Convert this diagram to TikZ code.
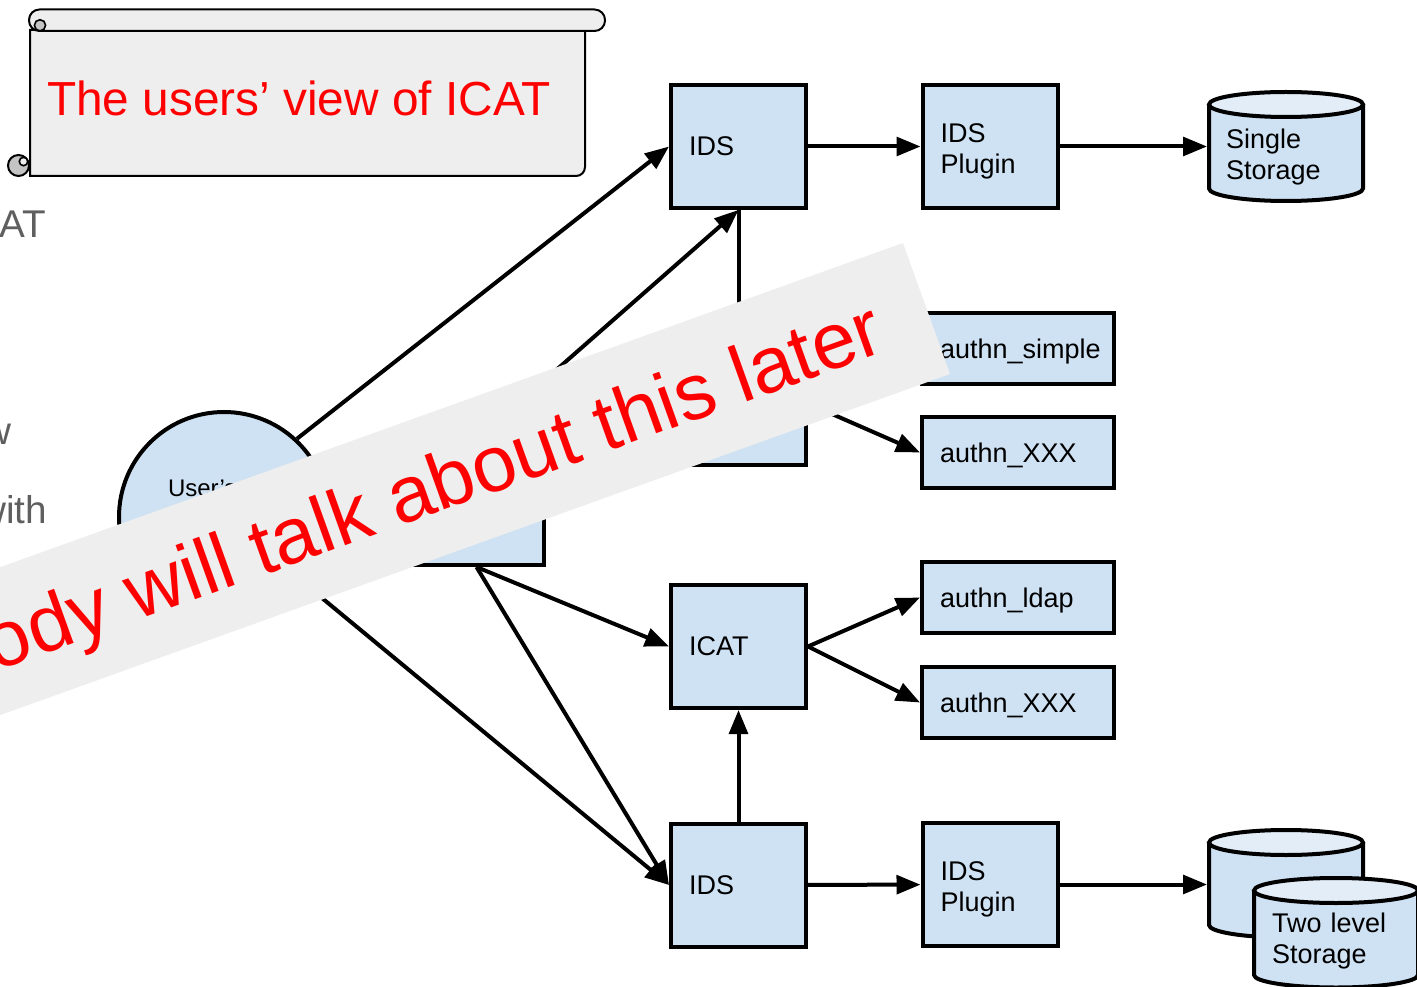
\documentclass[tikz,border=0pt]{standalone}
\usepackage{fontspec}
\setmainfont{Liberation Sans}
\usetikzlibrary{arrows.meta}
\definecolor{boxblue}{HTML}{CFE2F3}
\definecolor{topblue}{HTML}{E2EDF8}
\definecolor{bannergray}{HTML}{EEEEEE}
\definecolor{scrollgray}{HTML}{EEEEEE}
\definecolor{curlgray}{HTML}{C4C4C4}
\definecolor{fadetext}{HTML}{5F5F5F}
\definecolor{alertred}{HTML}{FF0000}
\begin{document}
\begin{tikzpicture}[x=0.75pt,y=-0.75pt,
  every node/.style={inner sep=0pt, outer sep=0pt},
  lab/.style={font=\fontsize{20.25pt}{23.25pt}\selectfont},
  sbox/.style={draw, line width=3pt, outer sep=1.5pt, fill=boxblue, lab, align=left,
    inner xsep=13.5pt, inner ysep=0pt, text width=74.25pt, minimum height=92.25pt},
  abox/.style={sbox, text width=117pt, text depth=0pt, minimum height=53.25pt},
  arr/.style={line width=3pt, -{Triangle[length=18pt,width=14pt]}},
  cyl/.style={line width=3pt},
  stlab/.style={lab, align=left, inner xsep=14.25pt, text width=90pt},
  fade/.style={text=fadetext, font=\fontsize{29pt}{34pt}\selectfont}
]
\useasboundingbox (0,0) rectangle (1417,987);
\clip (0,0) rectangle (1417,987);

% faded slide text at the left edge
\node[fade, anchor=base east] (fadeA) at (46,238) {AT};
\node[fade, anchor=base east] (fadeB) at (11,445) {w};
\node[fade, anchor=base east] (fadeC) at (47,523) {with};

% scroll
\draw[line width=1.5pt, fill=scrollgray] (30,30) -- (30,176) -- (576,176)
  .. controls (581,176) and (585,172) .. (585,167) -- (585,30) -- cycle;
\draw[line width=1.5pt, fill=scrollgray, rounded corners=7.8pt] (29,9.5) rectangle (605,31);
\draw[line width=1.2pt, fill=curlgray] (40,25.3) circle[radius=5.6];
\draw[line width=1.5pt, fill=curlgray] (18.5,165.5) circle[radius=10.5];
\draw[line width=1.2pt, fill=scrollgray] (23.5,161.5) circle[radius=4.2];
\node[anchor=base west, text=alertred, font=\fontsize{35.85pt}{42pt}\selectfont] (title) at (47,116) {The users’ view of ICAT};

% user side
\node[draw, line width=3pt, outer sep=1.5pt, fill=boxblue, circle, minimum size=157.5pt] (user) at (224,517) {};
\node[anchor=base west, font=\fontsize{18pt}{21pt}\selectfont] (usert) at (168,496) {User’s};
\node[sbox] (uprog) at (476.5,503.5) {};

% boxes
\node[sbox] (ids1) at (738.5,146.5) {IDS};
\node[sbox] (plug1) at (990,146.5) {\rule{0pt}{20.8pt}IDS\\Plugin};
\node[sbox] (icat1) at (738.5,403.5) {};
\node[sbox] (icat2) at (738.5,646.5) {ICAT};
\node[sbox] (ids2) at (738.5,885) {IDS};
\node[sbox] (plug2) at (990,884.5) {\rule{0pt}{20.8pt}IDS\\Plugin};
\node[abox] (asimple) at (1018,348.5) {authn\_simple};
\node[abox] (axxx1) at (1018,452.5) {authn\_XXX};
\node[abox] (aldap) at (1018,597.5) {authn\_ldap};
\node[abox] (axxx2) at (1018,702.5) {authn\_XXX};

% single storage cylinder
\path[fill=boxblue] (1209,104.5) -- (1209,188.5)
  arc[start angle=180, end angle=0, x radius=77, y radius=12.5] -- (1363,104.5) -- cycle;
\draw[cyl] (1209,104.5) -- (1209,188.5)
  arc[start angle=180, end angle=0, x radius=77, y radius=12.5] -- (1363,104.5);
\draw[cyl, fill=topblue] (1286,104.5) ellipse[x radius=77, y radius=12.5];
\node[stlab] (st1) at (1286,157) {Single\\Storage};

% two level storage cylinders
\path[fill=boxblue] (1209,842.5) -- (1209,925)
  arc[start angle=180, end angle=0, x radius=77, y radius=12.5] -- (1363,842.5) -- cycle;
\draw[cyl] (1209,842.5) -- (1209,925)
  arc[start angle=180, end angle=0, x radius=77, y radius=12.5] -- (1363,842.5);
\draw[cyl, fill=topblue] (1286,842.5) ellipse[x radius=77, y radius=12.5];
\node[minimum width=118.5pt, minimum height=80pt] (st2) at (1286,884.5) {};
\path[fill=boxblue] (1254,890.5) -- (1254,975)
  arc[start angle=180, end angle=0, x radius=82, y radius=12.5] -- (1418,890.5) -- cycle;
\draw[cyl] (1254,890.5) -- (1254,975)
  arc[start angle=180, end angle=0, x radius=82, y radius=12.5] -- (1418,890.5);
\draw[cyl, fill=topblue] (1336,890.5) ellipse[x radius=82, y radius=12.5];
\node[stlab, inner xsep=15pt, text width=94.5pt] (st2f) at (1335,941) {Two level\\Storage};

% connectors
\draw[arr] (ids1) -- (plug1);
\draw[arr] (plug1) -- (plug1 -| st1.west);
\draw[arr] (user.47) -- (ids1.west);
\draw[arr] (uprog.north) -- (ids1.south);
\draw[arr] (ids1.south) -- (icat1.north);
\draw[arr] (icat1.east) -- (asimple.west);
\draw[arr] (icat1.east) -- (axxx1.west);
\draw[arr] (uprog.south) -- (icat2.west);
\draw[arr] (uprog.south) -- (ids2.west);
\draw[arr] (user) -- (ids2.west);
\draw[arr] (icat2.east) -- (aldap.west);
\draw[arr] (icat2.east) -- (axxx2.west);
\draw[arr] (ids2) -- (icat2);
\draw[arr] (ids2) -- (plug2);
\draw[arr] (plug2) -- (plug2 -| st2.west);

% banner
\fill[bannergray] (903,243) -- (950,374) -- (-200,787) -- (-200,639) -- cycle;
\node[rotate=19.75, anchor=base east, text=alertred, font=\fontsize{59.5pt}{70pt}\selectfont] (later) at (888,351) {ody will talk about this later};
\end{tikzpicture}
\end{document}
